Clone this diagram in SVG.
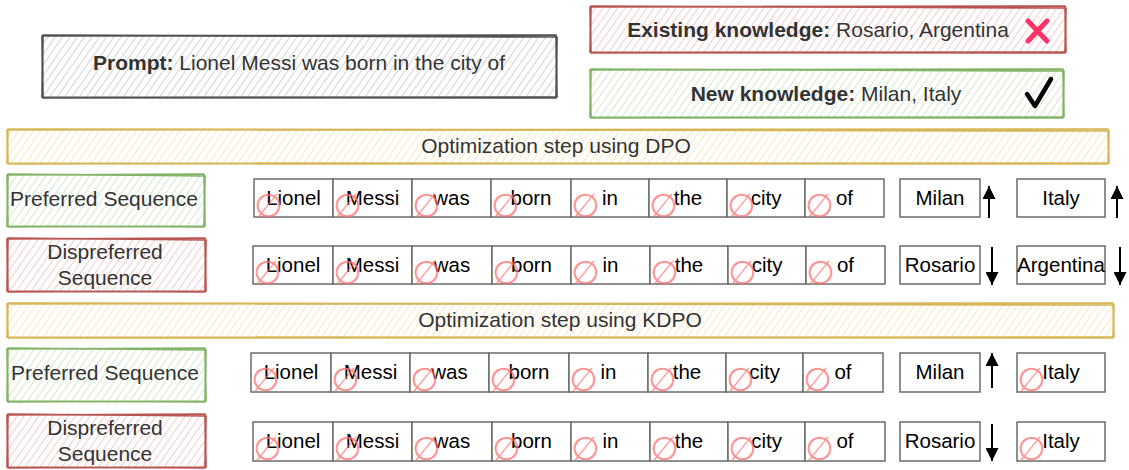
<svg xmlns="http://www.w3.org/2000/svg" width="1129" height="470" viewBox="0 0 1129 470">
<defs>
  <pattern id="hGray" patternUnits="userSpaceOnUse" width="6" height="6" patternTransform="rotate(35)"><line x1="0" y1="0" x2="0" y2="6" stroke="#b0b0b0" stroke-width="1.1"/></pattern>
  <pattern id="hRed" patternUnits="userSpaceOnUse" width="6" height="6" patternTransform="rotate(35)"><line x1="0" y1="0" x2="0" y2="6" stroke="#efa19d" stroke-width="1.1"/></pattern>
  <pattern id="hGreen" patternUnits="userSpaceOnUse" width="6" height="6" patternTransform="rotate(35)"><line x1="0" y1="0" x2="0" y2="6" stroke="#afd6a2" stroke-width="1.1"/></pattern>
  <pattern id="hYellow" patternUnits="userSpaceOnUse" width="6" height="6" patternTransform="rotate(35)"><line x1="0" y1="0" x2="0" y2="6" stroke="#f5d585" stroke-width="1.1"/></pattern>
  <marker id="ah" viewBox="0 0 10 10" refX="10" refY="5" markerWidth="13" markerHeight="13" markerUnits="userSpaceOnUse" orient="auto">
    <path d="M0,0 L10,5 L0,10 Z" fill="#000"/>
  </marker>
</defs>
<style>
  .sk{fill:none;stroke-width:1.7;stroke-linejoin:round}
  .gray{stroke:#505050}
  .red{stroke:#b85450}
  .green{stroke:#82b366}
  .yel{stroke:#d6b656}
  .lbl{font-family:"Liberation Sans",Arial,sans-serif;font-size:21px;fill:#333;text-anchor:middle}
  .b{font-weight:bold}
  .tok{fill:#fff;stroke:#6b6b6b;stroke-width:1.5}
  .tt{font-family:"Liberation Sans",Arial,sans-serif;font-size:20.5px;fill:#000;text-anchor:middle}
  .nul{font-family:"DejaVu Sans",sans-serif;font-size:33px;fill:#ff7070;fill-opacity:0.75}
  .arr{stroke:#000;stroke-width:2;fill:none;marker-end:url(#ah)}
</style>
<rect width="1129" height="470" fill="#fff"/>

<g id="prompt">
  <rect x="42" y="35" width="514" height="62" fill="url(#hGray)"/>
  <path class="sk gray" d="M42,36 L556,35 L557,97 L43,98 Z"/>
  <path class="sk gray" d="M43,35 L557,37 L556,98 L42,97 Z"/>
  <text class="lbl" x="299" y="70"><tspan class="b">Prompt:</tspan> Lionel Messi was born in the city of</text>
</g>

<g id="existing">
  <rect x="590" y="6" width="475" height="46" fill="url(#hRed)"/>
  <path class="sk red" d="M590,7 L1065,6 L1066,52 L591,53 Z"/>
  <path class="sk red" d="M591,6 L1066,8 L1065,53 L590,52 Z"/>
  <text class="lbl" x="818" y="37"><tspan class="b">Existing knowledge:</tspan> Rosario, Argentina</text>
  <path d="M1028,21 L1047,41 M1047,21 L1028,41" stroke="#ff3366" stroke-width="5" stroke-linecap="round"/>
</g>

<g id="new">
  <rect x="590" y="69" width="473" height="48" fill="url(#hGreen)"/>
  <path class="sk green" d="M590,70 L1063,69 L1064,117 L591,118 Z"/>
  <path class="sk green" d="M591,69 L1064,71 L1063,118 L590,117 Z"/>
  <text class="lbl" x="826" y="101"><tspan class="b">New knowledge:</tspan> Milan, Italy</text>
  <path d="M1027,94 L1035,106 L1051,79" stroke="#000" stroke-width="4.5" stroke-linecap="round" stroke-linejoin="round" fill="none"/>
</g>

<g id="dpo">
  <rect x="7" y="129" width="1101" height="34" fill="url(#hYellow)"/>
  <path class="sk yel" d="M7,130 L1108,129 L1109,163 L8,164 Z"/>
  <path class="sk yel" d="M8,129 L1109,131 L1108,164 L7,163 Z"/>
  <text class="lbl" x="556" y="153">Optimization step using DPO</text>
</g>

<g id="pref1">
  <rect x="7" y="174" width="197" height="52" fill="url(#hGreen)"/>
  <path class="sk green" d="M7,175 L204,174 L205,226 L8,227 Z"/>
  <path class="sk green" d="M8,174 L205,176 L204,227 L7,226 Z"/>
  <text class="lbl" x="104" y="206">Preferred Sequence</text>
</g>

<g id="disp1">
  <rect x="7" y="238" width="198" height="53" fill="url(#hRed)"/>
  <path class="sk red" d="M7,239 L205,238 L206,291 L8,292 Z"/>
  <path class="sk red" d="M8,238 L206,240 L205,292 L7,291 Z"/>
  <text class="lbl" x="105" y="259">Dispreferred</text>
  <text class="lbl" x="105" y="285">Sequence</text>
</g>

<g id="kdpo">
  <rect x="7" y="303" width="1106" height="34" fill="url(#hYellow)"/>
  <path class="sk yel" d="M7,304 L1113,303 L1114,337 L8,338 Z"/>
  <path class="sk yel" d="M8,303 L1114,305 L1113,338 L7,337 Z"/>
  <text class="lbl" x="560" y="327">Optimization step using KDPO</text>
</g>

<g id="pref2">
  <rect x="7" y="348" width="198" height="53" fill="url(#hGreen)"/>
  <path class="sk green" d="M7,349 L205,348 L206,401 L8,402 Z"/>
  <path class="sk green" d="M8,348 L206,350 L205,402 L7,401 Z"/>
  <text class="lbl" x="105" y="380">Preferred Sequence</text>
</g>

<g id="disp2">
  <rect x="7" y="414" width="198" height="53" fill="url(#hRed)"/>
  <path class="sk red" d="M7,415 L205,414 L206,467 L8,468 Z"/>
  <path class="sk red" d="M8,414 L206,416 L205,468 L7,467 Z"/>
  <text class="lbl" x="105" y="435">Dispreferred</text>
  <text class="lbl" x="105" y="461">Sequence</text>
</g>

<g id="row1">
  <rect class="tok" x="254" y="179" width="79" height="38"/><text class="tt" x="293.5" y="205">Lionel</text><text class="nul" x="254" y="217">∅</text>
  <rect class="tok" x="333" y="179" width="79" height="38"/><text class="tt" x="372.5" y="205">Messi</text><text class="nul" x="333" y="217">∅</text>
  <rect class="tok" x="412" y="179" width="79" height="38"/><text class="tt" x="451.5" y="205">was</text><text class="nul" x="412" y="217">∅</text>
  <rect class="tok" x="491" y="179" width="80" height="38"/><text class="tt" x="531" y="205">born</text><text class="nul" x="491" y="217">∅</text>
  <rect class="tok" x="571" y="179" width="78" height="38"/><text class="tt" x="610" y="205">in</text><text class="nul" x="571" y="217">∅</text>
  <rect class="tok" x="649" y="179" width="78" height="38"/><text class="tt" x="688" y="205">the</text><text class="nul" x="649" y="217">∅</text>
  <rect class="tok" x="727" y="179" width="78" height="38"/><text class="tt" x="766" y="205">city</text><text class="nul" x="727" y="217">∅</text>
  <rect class="tok" x="805" y="179" width="79" height="38"/><text class="tt" x="844.5" y="205">of</text><text class="nul" x="805" y="217">∅</text>
  <rect class="tok" x="900" y="179" width="80" height="38"/><text class="tt" x="940" y="205">Milan</text>
  <rect class="tok" x="1017" y="179" width="88" height="38"/><text class="tt" x="1061" y="205">Italy</text>
</g>

<g id="row2">
  <rect class="tok" x="253" y="246" width="80" height="38"/><text class="tt" x="293" y="272">Lionel</text><text class="nul" x="253" y="284">∅</text>
  <rect class="tok" x="333" y="246" width="79" height="38"/><text class="tt" x="372.5" y="272">Messi</text><text class="nul" x="333" y="284">∅</text>
  <rect class="tok" x="412" y="246" width="80" height="38"/><text class="tt" x="452" y="272">was</text><text class="nul" x="412" y="284">∅</text>
  <rect class="tok" x="492" y="246" width="79" height="38"/><text class="tt" x="531.5" y="272">born</text><text class="nul" x="492" y="284">∅</text>
  <rect class="tok" x="571" y="246" width="79" height="38"/><text class="tt" x="610.5" y="272">in</text><text class="nul" x="571" y="284">∅</text>
  <rect class="tok" x="650" y="246" width="78" height="38"/><text class="tt" x="689" y="272">the</text><text class="nul" x="650" y="284">∅</text>
  <rect class="tok" x="728" y="246" width="78" height="38"/><text class="tt" x="767" y="272">city</text><text class="nul" x="728" y="284">∅</text>
  <rect class="tok" x="806" y="246" width="79" height="38"/><text class="tt" x="845.5" y="272">of</text><text class="nul" x="806" y="284">∅</text>
  <rect class="tok" x="900" y="246" width="80" height="38"/><text class="tt" x="940" y="272">Rosario</text>
  <rect class="tok" x="1017" y="246" width="88" height="38"/><text class="tt" x="1061" y="272">Argentina</text>
</g>

<g id="row3">
  <rect class="tok" x="251" y="353" width="80" height="39"/><text class="tt" x="291" y="379">Lionel</text><text class="nul" x="251" y="391">∅</text>
  <rect class="tok" x="331" y="353" width="79" height="39"/><text class="tt" x="370.5" y="379">Messi</text><text class="nul" x="331" y="391">∅</text>
  <rect class="tok" x="410" y="353" width="79" height="39"/><text class="tt" x="449.5" y="379">was</text><text class="nul" x="410" y="391">∅</text>
  <rect class="tok" x="489" y="353" width="80" height="39"/><text class="tt" x="529" y="379">born</text><text class="nul" x="489" y="391">∅</text>
  <rect class="tok" x="569" y="353" width="79" height="39"/><text class="tt" x="608.5" y="379">in</text><text class="nul" x="569" y="391">∅</text>
  <rect class="tok" x="648" y="353" width="78" height="39"/><text class="tt" x="687" y="379">the</text><text class="nul" x="648" y="391">∅</text>
  <rect class="tok" x="726" y="353" width="77" height="39"/><text class="tt" x="764.5" y="379">city</text><text class="nul" x="726" y="391">∅</text>
  <rect class="tok" x="803" y="353" width="80" height="39"/><text class="tt" x="843" y="379">of</text><text class="nul" x="803" y="391">∅</text>
  <rect class="tok" x="900" y="353" width="80" height="39"/><text class="tt" x="940" y="379">Milan</text>
  <rect class="tok" x="1017" y="353" width="88" height="39"/><text class="tt" x="1061" y="379">Italy</text><text class="nul" x="1017" y="391">∅</text>
</g>

<g id="row4">
  <rect class="tok" x="253" y="422" width="80" height="39"/><text class="tt" x="293" y="448">Lionel</text><text class="nul" x="253" y="460">∅</text>
  <rect class="tok" x="333" y="422" width="79" height="39"/><text class="tt" x="372.5" y="448">Messi</text><text class="nul" x="333" y="460">∅</text>
  <rect class="tok" x="412" y="422" width="80" height="39"/><text class="tt" x="452" y="448">was</text><text class="nul" x="412" y="460">∅</text>
  <rect class="tok" x="492" y="422" width="79" height="39"/><text class="tt" x="531.5" y="448">born</text><text class="nul" x="492" y="460">∅</text>
  <rect class="tok" x="571" y="422" width="79" height="39"/><text class="tt" x="610.5" y="448">in</text><text class="nul" x="571" y="460">∅</text>
  <rect class="tok" x="650" y="422" width="78" height="39"/><text class="tt" x="689" y="448">the</text><text class="nul" x="650" y="460">∅</text>
  <rect class="tok" x="728" y="422" width="77" height="39"/><text class="tt" x="766.5" y="448">city</text><text class="nul" x="728" y="460">∅</text>
  <rect class="tok" x="805" y="422" width="80" height="39"/><text class="tt" x="845" y="448">of</text><text class="nul" x="805" y="460">∅</text>
  <rect class="tok" x="900" y="422" width="80" height="39"/><text class="tt" x="940" y="448">Rosario</text>
  <rect class="tok" x="1017" y="422" width="88" height="39"/><text class="tt" x="1061" y="448">Italy</text><text class="nul" x="1017" y="460">∅</text>
</g>

<g id="connectors">
  <line class="arr" x1="989" y1="218" x2="989" y2="186"/>
  <line class="arr" x1="1117" y1="218" x2="1117" y2="186"/>
  <line class="arr" x1="992" y1="247" x2="992" y2="285"/>
  <line class="arr" x1="1120" y1="247" x2="1120" y2="285"/>
  <line class="arr" x1="992" y1="388" x2="992" y2="353"/>
  <line class="arr" x1="992" y1="424" x2="992" y2="461"/>
</g>
</svg>
